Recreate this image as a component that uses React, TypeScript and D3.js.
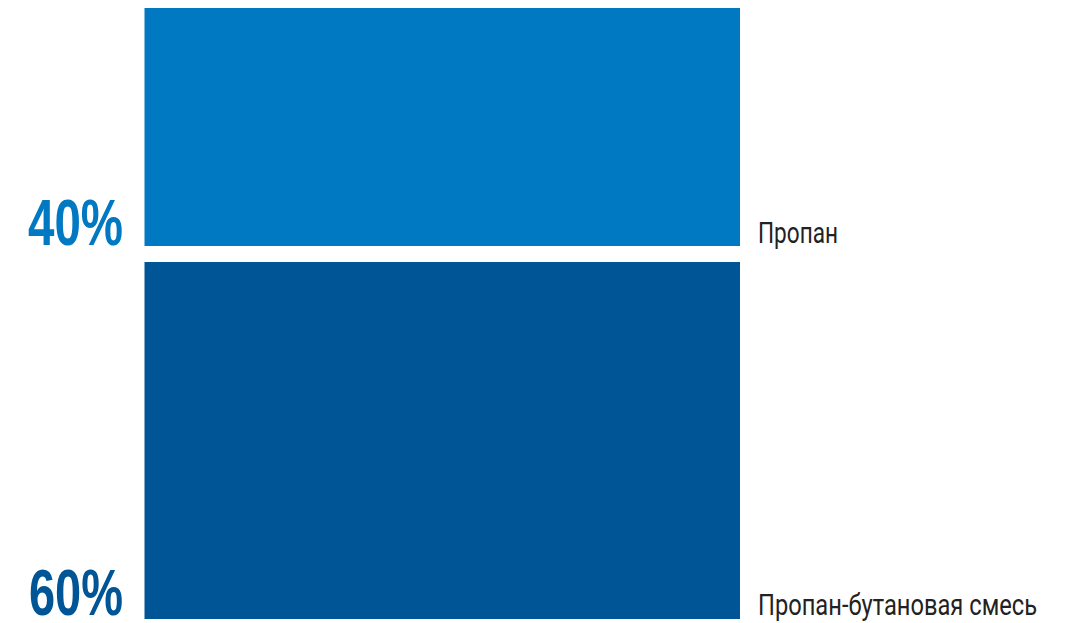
import React from "react";
import * as d3 from "d3";

const categories = ["Пропан", "Пропан-бутановая смесь"];
const values = [40, 60];
const percentLabels = ["40%", "60%"];
const colors = ["#0079C2", "#005596"];

export default function App() {
  const width = 1065;
  const height = 623;
  const gap = 16;
  const top = 8;
  const bottom = 619;
  const total = d3.sum(values);
  const y = d3.scaleLinear().domain([0, total]).range([0, bottom - top - gap * (values.length - 1)]);
  const x = d3.scaleLinear().domain([0, 1]).range([144.5, 740]);
  let acc = 0;
  const segs = values.map((v, i) => {
    const y0 = top + y(acc) + i * gap;
    const h = y(v);
    acc += v;
    return { y0, h, v, i };
  });
  return (
    <svg width={width} height={height} style={{ position: "absolute", left: 0, top: 0 }}>
      {segs.map((s) => (
        <g key={s.i}>
          <rect x={x(0)} y={s.y0} width={x(1) - x(0)} height={s.h} fill={colors[s.i]} />
          <text
            x={s.i === 0 ? 28 : 29}
            y={s.y0 + s.h - (s.i === 0 ? 1 : 4)}
            fill={colors[s.i]}
            fontFamily="Liberation Sans, Arial, sans-serif"
            fontWeight="bold"
            fontSize={65}
            textLength={s.i === 0 ? 95 : 94}
            lengthAdjust="spacingAndGlyphs"
          >
            {percentLabels[s.i]}
          </text>
          <text
            x={758}
            y={s.y0 + s.h - (s.i === 0 ? 3 : 4)}
            fill="#222"
            fontFamily="Roboto, sans-serif"
            fontSize={29}
            textLength={s.i === 0 ? 80 : 279}
            lengthAdjust="spacingAndGlyphs"
          >
            {categories[s.i]}
          </text>
        </g>
      ))}
    </svg>
  );
}
